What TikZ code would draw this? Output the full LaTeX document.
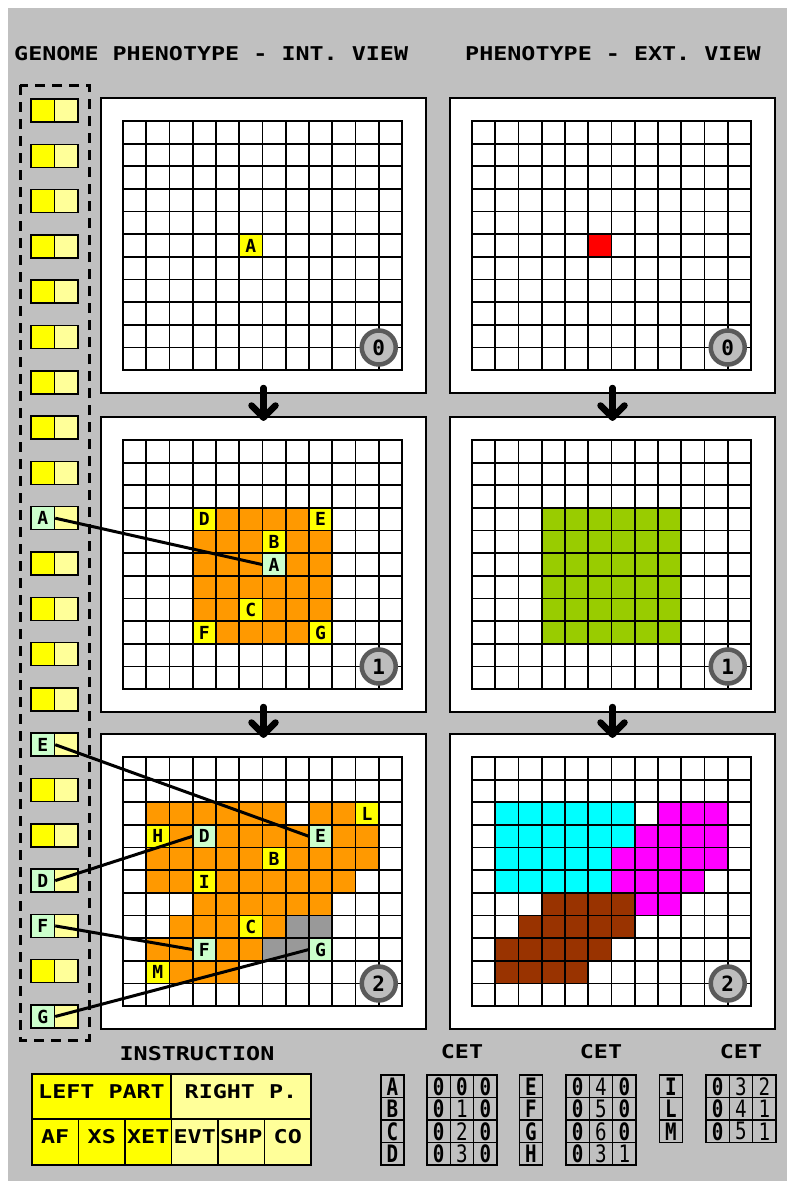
\documentclass[tikz,border=0pt]{standalone}
\usepackage{fontspec}
\usepackage{graphicx}
\usetikzlibrary{calc}
\newfontfamily\pixw[FakeStretch=1.23]{DejaVu Sans Mono}
\newfontfamily\pixm{DejaVu Sans Mono}
\newfontfamily\pixn[FakeStretch=0.8]{DejaVu Sans Mono}
\newcommand\hdrtxt{\pixw\bfseries\fontsize{19}{19}\selectfont}
\newcommand\celltxt{\pixm\bfseries\fontsize{18}{18}\selectfont}
\newcommand\badgetxt{\pixm\bfseries\fontsize{21}{21}\selectfont}
\newcommand\cettxt{\pixn\fontsize{24}{24}\selectfont}
\newcommand\cetlet{\pixn\bfseries\fontsize{24}{24}\selectfont}
\newcommand\dg[1]{\ifnum#1=0 {\bfseries 0}\else #1\fi}
\definecolor{bggray}{HTML}{C0C0C0}
\definecolor{corange}{HTML}{FF9900}
\definecolor{cyel}{HTML}{FFFF00}
\definecolor{clyel}{HTML}{FFFF99}
\definecolor{clgreen}{HTML}{CCFFCC}
\definecolor{cgray}{HTML}{999999}
\definecolor{cgreen}{HTML}{99CC00}
\definecolor{ccyan}{HTML}{00FFFF}
\definecolor{cmag}{HTML}{FF00FF}
\definecolor{cbrown}{HTML}{993300}
\definecolor{cred}{HTML}{FF0000}
\definecolor{bout}{HTML}{5A5A5A}
\definecolor{bin}{HTML}{BDBDBD}
\newcommand\gridlines{%
  \foreach \i in {0,...,12} {\draw[gridline] (\i,0) -- (\i,11);}
  \foreach \j in {0,...,11} {\draw[gridline] (0,\j) -- (12,\j);}
}
\tikzset{
  gridline/.style={line width=1.7pt, black, line cap=rect},
  panel/.style={draw=black, line width=2pt, fill=white, minimum width=325pt, minimum height=295pt, inner sep=0pt},
  gridof/.style={shift={(#1.north west)}, shift={(23,24)}, x=23.25pt, y=-22.65pt},
  lcell/.style={minimum width=23.25pt, minimum height=22.65pt, inner sep=0pt, font=\celltxt},
  badge/.style={circle, fill=bin, draw=bout, line width=4.5pt, minimum size=34pt, inner sep=0pt, font=\badgetxt},
  gbox/.style={draw=black, line width=1.5pt, minimum width=23.5pt, minimum height=23pt, inner sep=0pt, font=\celltxt},
  conn/.style={line width=3pt, black},
  bigarrow/.style={line width=6.5pt, line cap=round, line join=round, black},
  tcell/.style={draw=black, line width=1.7pt, inner sep=0pt, font=\hdrtxt, text height=13pt, text depth=10pt},
  ccell/.style={draw=black, line width=1.6pt, inner sep=0pt, minimum width=23.3pt, minimum height=22.5pt, font=\cettxt},
}
\begin{document}
\begin{tikzpicture}[x=1pt,y=-1pt]
\useasboundingbox (0,0) rectangle (787,1181);
\fill[white] (0,0) rectangle (787,1181);
\fill[bggray] (8,8) rectangle (787,1181);

% headers
\node[anchor=base west, inner sep=0pt, font=\hdrtxt] (h1) at (14,60) {GENOME PHENOTYPE - INT. VIEW};
\node[anchor=base west, inner sep=0pt, font=\hdrtxt] (h2) at (465,60) {PHENOTYPE - EXT. VIEW};

% genome column
\draw[line width=3pt, dash pattern=on 10pt off 7pt] (20,85) rectangle (89,1040);
\foreach \i in {0,...,20}{
  \node[gbox, fill=cyel] (gl\i) at (42.75, {110.5+\i*45.3}) {};
  \node[gbox, fill=clyel] (gr\i) at (66.25, {110.5+\i*45.3}) {};
}
\node[gbox, fill=clgreen] (gA) at (42.75, {110.5+9*45.3}) {A};
\node[gbox, fill=clgreen] (gE) at (42.75, {110.5+14*45.3}) {E};
\node[gbox, fill=clgreen] (gD) at (42.75, {110.5+17*45.3}) {D};
\node[gbox, fill=clgreen] (gF) at (42.75, {110.5+18*45.3}) {F};
\node[gbox, fill=clgreen] (gG) at (42.75, {110.5+20*45.3}) {G};

% panels
\node[panel] (L0) at (263.5,245.5) {};
\node[panel] (L1) at (263.5,564.5) {};
\node[panel] (L2) at (263.5,881.5) {};
\node[panel] (R0) at (612.5,245.5) {};
\node[panel] (R1) at (612.5,564.5) {};
\node[panel] (R2) at (612.5,881.5) {};

% L0
\begin{scope}[gridof=L0]
  \node[lcell, fill=cyel] (p0A) at (5.5,5.5) {A};
  \gridlines
  \node[badge] (bL0) at (11,10) {0};
\end{scope}
% R0
\begin{scope}[gridof=R0]
  \fill[cred] (5,5) rectangle (6,6);
  \gridlines
  \node[badge] (bR0) at (11,10) {0};
\end{scope}
% L1
\begin{scope}[gridof=L1]
  \fill[corange] (3,3) rectangle (9,9);
  \node[lcell, fill=cyel] (p1D) at (3.5,3.5) {D};
  \node[lcell, fill=cyel] (p1E) at (8.5,3.5) {E};
  \node[lcell, fill=cyel] (p1B) at (6.5,4.5) {B};
  \node[lcell, fill=clgreen] (p1A) at (6.5,5.5) {A};
  \node[lcell, fill=cyel] (p1C) at (5.5,7.5) {C};
  \node[lcell, fill=cyel] (p1F) at (3.5,8.5) {F};
  \node[lcell, fill=cyel] (p1G) at (8.5,8.5) {G};
  \gridlines
  \node[badge] (bL1) at (11,10) {1};
\end{scope}
% R1
\begin{scope}[gridof=R1]
  \fill[cgreen] (3,3) rectangle (9,9);
  \gridlines
  \node[badge] (bR1) at (11,10) {1};
\end{scope}
% L2
\begin{scope}[gridof=L2]
  \fill[corange] (1,2) rectangle (7,3);
  \fill[corange] (8,2) rectangle (10,3);
  \fill[corange] (1,3) rectangle (11,5);
  \fill[corange] (1,5) rectangle (10,6);
  \fill[corange] (3,6) rectangle (9,7);
  \fill[corange] (2,7) rectangle (7,8);
  \fill[cgray] (7,7) rectangle (9,8);
  \fill[corange] (1,8) rectangle (6,9);
  \fill[cgray] (6,8) rectangle (8,9);
  \fill[corange] (2,9) rectangle (5,10);
  \node[lcell, fill=cyel] (p2L) at (10.5,2.5) {L};
  \node[lcell, fill=cyel] (p2H) at (1.5,3.5) {H};
  \node[lcell, fill=clgreen] (p2D) at (3.5,3.5) {D};
  \node[lcell, fill=clgreen] (p2E) at (8.5,3.5) {E};
  \node[lcell, fill=cyel] (p2B) at (6.5,4.5) {B};
  \node[lcell, fill=cyel] (p2I) at (3.5,5.5) {I};
  \node[lcell, fill=cyel] (p2C) at (5.5,7.5) {C};
  \node[lcell, fill=clgreen] (p2F) at (3.5,8.5) {F};
  \node[lcell, fill=clgreen] (p2G) at (8.5,8.5) {G};
  \node[lcell, fill=cyel] (p2M) at (1.5,9.5) {M};
  \gridlines
  \node[badge] (bL2) at (11,10) {2};
\end{scope}
% R2
\begin{scope}[gridof=R2]
  \fill[ccyan] (1,2) rectangle (7,4);
  \fill[ccyan] (1,4) rectangle (6,6);
  \fill[cmag] (8,2) rectangle (11,3);
  \fill[cmag] (7,3) rectangle (11,4);
  \fill[cmag] (6,4) rectangle (11,5);
  \fill[cmag] (6,5) rectangle (10,6);
  \fill[cmag] (7,6) rectangle (9,7);
  \fill[cbrown] (3,6) rectangle (7,7);
  \fill[cbrown] (2,7) rectangle (7,8);
  \fill[cbrown] (1,8) rectangle (6,9);
  \fill[cbrown] (1,9) rectangle (5,10);
  \gridlines
  \node[badge] (bR2) at (11,10) {2};
\end{scope}

% arrows between panels
\foreach \a/\b in {L0/L1, L1/L2, R0/R1, R1/R2}{
  \coordinate (t\a) at ([yshift=6pt]\a.south);
  \coordinate (h\a) at ([yshift=-1.5pt]\b.north);
  \draw[bigarrow] (t\a) -- (h\a);
  \draw[bigarrow] ($(h\a)+(-12,-12)$) -- (h\a) -- ($(h\a)+(12,-12)$);
}

% connectors
\draw[conn] (gA.east) -- (p1A.west);
\draw[conn] (gE.east) -- (p2E.west);
\draw[conn] (gD.east) -- (p2D.west);
\draw[conn] (gF.east) -- (p2F.west);
\draw[conn] (gG.east) -- (p2G.west);

% instruction table
\node[anchor=base, inner sep=0pt, font=\hdrtxt] (instr) at (197,1060) {INSTRUCTION};
\node[tcell, fill=cyel, minimum width=139pt, minimum height=45pt] (lp) at (101.5,1096.5) {LEFT PART};
\node[tcell, fill=clyel, minimum width=140pt, minimum height=45pt] (rp) at (241,1096.5) {RIGHT P.};
\node[tcell, fill=cyel, minimum width=46.5pt, minimum height=46pt] (iAF) at (55.25,1142) {AF};
\node[tcell, fill=cyel, minimum width=46.5pt, minimum height=46pt] (iXS) at (101.75,1142) {XS};
\node[tcell, fill=cyel, minimum width=46.5pt, minimum height=46pt] (iXET) at (148.25,1142) {XET};
\node[tcell, fill=clyel, minimum width=46.5pt, minimum height=46pt] (iEVT) at (194.75,1142) {EVT};
\node[tcell, fill=clyel, minimum width=46.5pt, minimum height=46pt] (iSHP) at (241.25,1142) {SHP};
\node[tcell, fill=clyel, minimum width=46.5pt, minimum height=46pt] (iCO) at (287.75,1142) {CO};

% CET tables
\node[anchor=base, inner sep=0pt, font=\hdrtxt] (cet1) at (462,1058) {CET};
\node[anchor=base, inner sep=0pt, font=\hdrtxt] (cet2) at (601,1058) {CET};
\node[anchor=base, inner sep=0pt, font=\hdrtxt] (cet3) at (741,1058) {CET};
\foreach \l/\a/\b/\c [count=\k from 0] in {A/0/0/0, B/0/1/0, C/0/2/0, D/0/3/0}{
  \node[ccell, font=\cetlet] (k\l) at (392.5, {1086.25+\k*22.5}) {\l};
  \node[ccell] (k\l1) at (438.7, {1086.25+\k*22.5}) {\dg{\a}};
  \node[ccell] (k\l2) at (462, {1086.25+\k*22.5}) {\dg{\b}};
  \node[ccell] (k\l3) at (485.3, {1086.25+\k*22.5}) {\dg{\c}};
}
\foreach \l/\a/\b/\c [count=\k from 0] in {E/0/4/0, F/0/5/0, G/0/6/0, H/0/3/1}{
  \node[ccell, font=\cetlet] (k\l) at (531, {1086.25+\k*22.5}) {\l};
  \node[ccell] (k\l1) at (577.7, {1086.25+\k*22.5}) {\dg{\a}};
  \node[ccell] (k\l2) at (601, {1086.25+\k*22.5}) {\dg{\b}};
  \node[ccell] (k\l3) at (624.3, {1086.25+\k*22.5}) {\dg{\c}};
}
\foreach \l/\a/\b/\c [count=\k from 0] in {I/0/3/2, L/0/4/1, M/0/5/1}{
  \node[ccell, font=\cetlet] (k\l) at (671, {1086.25+\k*22.5}) {\l};
  \node[ccell] (k\l1) at (717.7, {1086.25+\k*22.5}) {\dg{\a}};
  \node[ccell] (k\l2) at (741, {1086.25+\k*22.5}) {\dg{\b}};
  \node[ccell] (k\l3) at (764.3, {1086.25+\k*22.5}) {\dg{\c}};
}
\end{tikzpicture}
\end{document}
